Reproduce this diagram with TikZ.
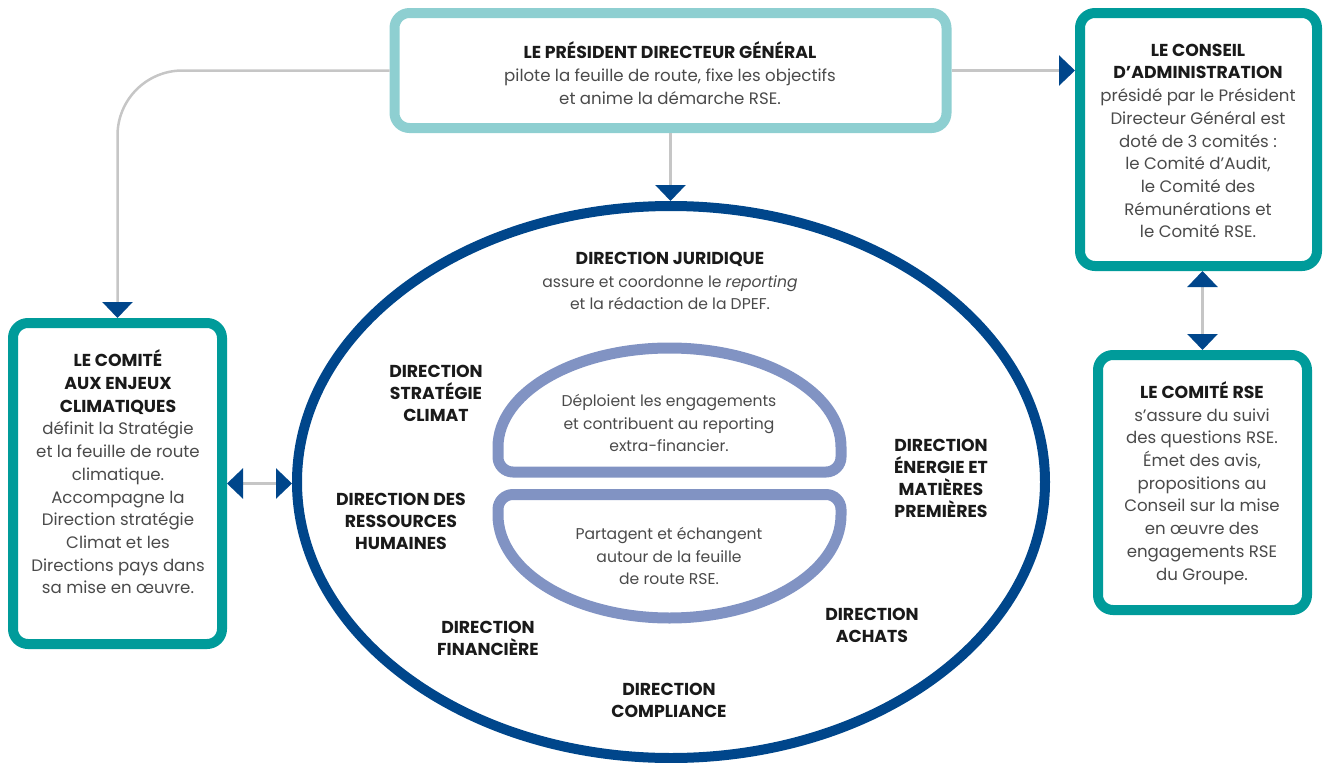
\documentclass[tikz,border=0pt]{standalone}
\usepackage{fontspec}
\setmainfont{Poppins}
\usetikzlibrary{arrows.meta,shapes.geometric}
\definecolor{pdgcol}{HTML}{8ECFD1}
\definecolor{tealcol}{HTML}{009B9A}
\definecolor{navycol}{HTML}{00468B}
\definecolor{periwcol}{HTML}{8193C3}
\definecolor{linecol}{HTML}{C6C6C6}
\definecolor{bodycol}{HTML}{4A4A4A}
\definecolor{titlecol}{HTML}{1A1A1A}
\newcommand\ttl[1]{\textcolor{titlecol}{\bfseries\fontsize{17.3}{22.7}\selectfont #1}}
\tikzset{
  framebox/.style={draw=#1, line width=10pt, rounded corners=15pt, inner sep=0pt},
  txt/.style={align=center, inner sep=0pt, text=bodycol, font=\fontsize{16.6}{22.7}\selectfont},
  intxt/.style={align=center, inner sep=0pt, text=bodycol, font=\fontsize{15.6}{22.4}\selectfont},
  dirtxt/.style={align=center, inner sep=0pt, text=titlecol, font=\bfseries\fontsize{17.3}{22}\selectfont},
  conn/.style={draw=linecol, line width=2.5pt},
  tip/.tip={Triangle[width=30pt,length=16pt,color=navycol]},
  innershape/.style={draw=periwcol, line width=11pt}
}
\begin{document}
\begin{tikzpicture}[x=1pt,y=-1pt]
\useasboundingbox (0,0) rectangle (1326,763);
% main ellipse
\node[ellipse, draw=navycol, line width=10pt, minimum width=748pt, minimum height=552pt, inner sep=0pt] (circ) at (671,482) {};
% inner shapes
\draw[innershape] (498,447) arc[start angle=180,end angle=0,x radius=171.5pt,y radius=99pt]
  -- (841,457) arc[start angle=0,end angle=-90,radius=15pt]
  -- (513,472) arc[start angle=270,end angle=180,radius=15pt] -- cycle;
\draw[innershape] (498,515) -- (498,509.5) arc[start angle=180,end angle=90,radius=15pt]
  -- (826,494.5) arc[start angle=90,end angle=0,radius=15pt]
  -- (841,515) arc[start angle=0,end angle=-180,x radius=171.5pt,y radius=103pt] -- cycle;
% boxes
\node[framebox=pdgcol, minimum width=552pt, minimum height=115pt] (pdg) at (670.5,70.5) {};
\node[framebox=tealcol, minimum width=237pt, minimum height=253pt] (conseil) at (1198.5,139.5) {};
\node[framebox=tealcol, minimum width=209pt, minimum height=255pt] (rse) at (1202.5,482.5) {};
\node[framebox=tealcol, minimum width=209pt, minimum height=321pt] (climat) at (117.5,483.5) {};
% connectors
\draw[conn, -tip] (pdg.south) -- (pdg.south |- circ.north);
\draw[conn, -tip, rounded corners=65pt] (pdg.west) -| (climat.north);
\draw[conn, -tip] (pdg.east) -- (pdg.east -| conseil.west);
\draw[conn, tip-tip] (rse.north |- conseil.south) -- (rse.north);
\draw[conn, tip-tip] (climat.east) -- (climat.east -| circ.west);
% texts
\node[txt] (pdgtxt) at (670,73) {\ttl{LE PRÉSIDENT DIRECTEUR GÉNÉRAL}\\pilote la feuille de route, fixe les objectifs\\et anime la démarche RSE.};
\node[txt] (conseiltxt) at (1198,141) {\ttl{LE CONSEIL}\\\ttl{D’ADMINISTRATION}\\présidé par le Président\\Directeur Général est\\doté de 3 comités :\\le Comité d’Audit,\\le Comité des\\Rémunérations et\\le Comité RSE.};
\node[txt] (rsetxt) at (1202,483) {\ttl{LE COMITÉ RSE}\\s’assure du suivi\\des questions RSE.\\Émet des avis,\\propositions au\\Conseil sur la mise\\en œuvre des\\engagements RSE\\du Groupe.};
\node[txt] (climattxt) at (118,472) {\ttl{LE COMITÉ}\\\ttl{AUX ENJEUX}\\\ttl{CLIMATIQUES}\\définit la Stratégie\\et la feuille de route\\climatique.\\Accompagne la\\Direction stratégie\\Climat et les\\Directions pays dans\\sa mise en œuvre.};
\node[intxt] (jurtxt) at (670,281) {\ttl{DIRECTION JURIDIQUE}\\assure et coordonne le \textit{reporting}\\et la rédaction de la DPEF.};
\node[intxt] (dometxt) at (669,423) {Déploient les engagements\\et contribuent au reporting\\extra-financier.};
\node[intxt] (bowltxt) at (669,556) {Partagent et échangent\\autour de la feuille\\de route RSE.};
\node[dirtxt] (strattxt) at (436,393) {DIRECTION\\STRATÉGIE\\CLIMAT};
\node[dirtxt] (enertxt) at (941,478.5) {DIRECTION\\ÉNERGIE ET\\MATIÈRES\\PREMIÈRES};
\node[dirtxt] (rhtxt) at (401,521) {DIRECTION DES\\RESSOURCES\\HUMAINES};
\node[dirtxt] (achtxt) at (872,625) {DIRECTION\\ACHATS};
\node[dirtxt] (fintxt) at (488,638) {DIRECTION\\FINANCIÈRE};
\node[dirtxt] (comptxt) at (669,700) {DIRECTION\\COMPLIANCE};
\end{tikzpicture}
\end{document}
